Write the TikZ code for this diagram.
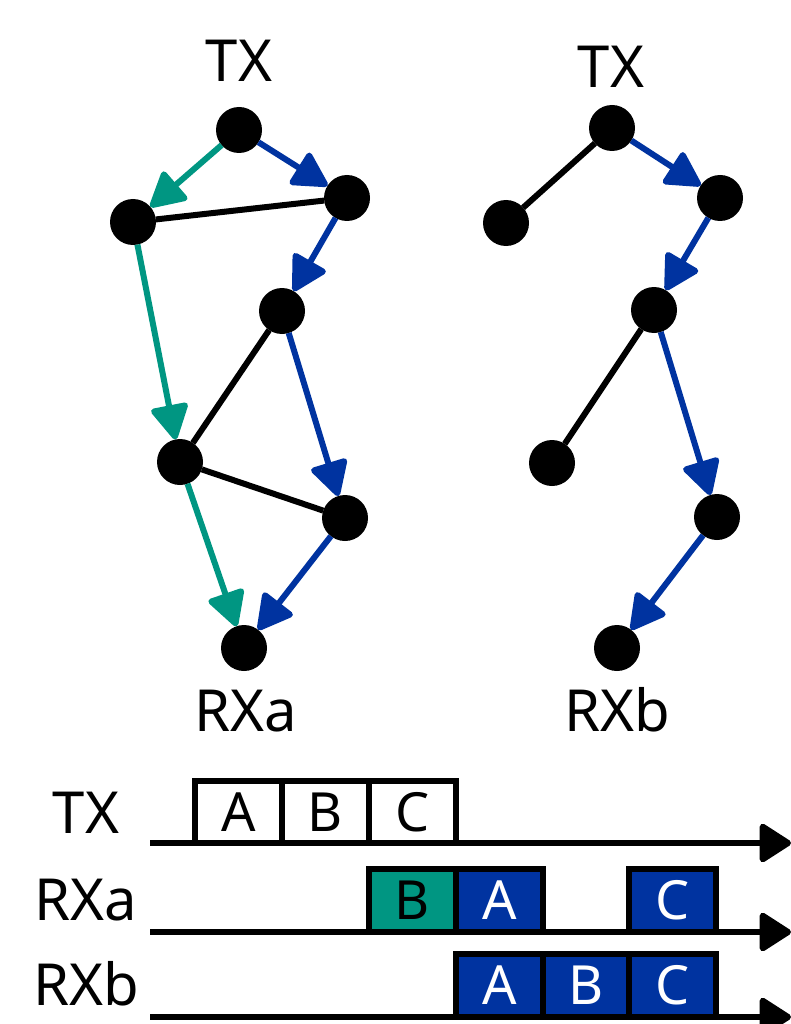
\documentclass[tikz,border=0pt]{standalone}
\usepackage{fontspec}
\setmainfont{Noto Sans}
\usetikzlibrary{arrows.meta,backgrounds}
\definecolor{pathgreen}{RGB}{0,150,130}
\definecolor{pathblue}{RGB}{0,51,160}
\tikzset{
  vertex/.style={circle,fill=black,minimum size=46pt,inner sep=0pt,outer sep=0pt},
  lbl/.style={font=\fontsize{58}{60}\selectfont,anchor=base,inner sep=0pt},
  link/.style={line width=6pt,black},
  garrow/.style={line width=6pt,pathgreen,-{Triangle[length=38pt,width=40pt,round]}},
  barrow/.style={line width=6pt,pathblue,-{Triangle[length=38pt,width=40pt,round]}},
  axis/.style={line width=6pt,black,-{Triangle[length=34pt,width=42pt,round]}},
  pkt/.style={rectangle,draw=black,line width=6pt,minimum width=87pt,inner sep=0pt,
    font=\fontsize{54}{56}\selectfont},
  pktw/.style={pkt,fill=white,text=black,minimum height=62pt},
  pktg/.style={pkt,fill=pathgreen,text=black,minimum height=63pt},
  pktb/.style={pkt,fill=pathblue,text=white,minimum height=63pt},
}
\begin{document}
\begin{tikzpicture}[x=1pt,y=-1pt]
\useasboundingbox (0,0) rectangle (791,1024);

% left network
\node[vertex] (a1) at (239,130) {};
\node[vertex] (a2) at (133,222) {};
\node[vertex] (a3) at (347,198) {};
\node[vertex] (a4) at (282,311) {};
\node[vertex] (a5) at (180,462) {};
\node[vertex] (a6) at (345,518) {};
\node[vertex] (a7) at (244,648) {};
\node[lbl] (tla) at (239,82) {TX};
\node[lbl] (rla) at (246,731) {RXa};

% right network
\node[vertex] (b1) at (612,128) {};
\node[vertex] (b2) at (506,223) {};
\node[vertex] (b3) at (720,198) {};
\node[vertex] (b4) at (654,310) {};
\node[vertex] (b5) at (552,463) {};
\node[vertex] (b6) at (717,517) {};
\node[vertex] (b7) at (617,648) {};
\node[lbl] (tlb) at (611,88) {TX};
\node[lbl] (rlb) at (617,731) {RXb};

\begin{scope}[on background layer]
  \draw[link] (a2) -- (a3);
  \draw[link] (a4) -- (a5);
  \draw[link] (a5) -- (a6);
  \draw[link] (b1) -- (b2);
  \draw[link] (b4) -- (b5);
\end{scope}
\draw[garrow] (a1) -- (a2);
\draw[garrow] (a2) -- (a5);
\draw[garrow] (a5) -- (a7);
\draw[barrow] (a1) -- (a3);
\draw[barrow] (a3) -- (a4);
\draw[barrow] (a4) -- (a6);
\draw[barrow] (a6) -- (a7);
\draw[barrow] (b1) -- (b3);
\draw[barrow] (b3) -- (b4);
\draw[barrow] (b4) -- (b6);
\draw[barrow] (b6) -- (b7);

% timelines
\coordinate (t0) at (150,843);  \coordinate (t1) at (791,843);
\coordinate (ra0) at (150,932); \coordinate (ra1) at (791,932);
\coordinate (rb0) at (150,1017); \coordinate (rb1) at (791,1017);
\draw[axis] (t0) -- (t1);
\draw[axis] (ra0) -- (ra1);
\draw[axis] (rb0) -- (rb1);

\node[lbl] (ltx) at (86,833) {TX};
\node[lbl] (lra) at (86,920) {RXa};
\node[lbl] (lrb) at (86,1005) {RXb};

\node[pktw] (txA) at (238.5,812) {A};
\node[pktw] (txB) at (325.5,812) {B};
\node[pktw] (txC) at (412.5,812) {C};

\node[pktg] (raB) at (412.5,900.5) {B};
\node[pktb] (raA) at (499.5,900.5) {A};
\node[pktb] (raC) at (672.5,900.5) {C};

\node[pktb] (rbA) at (499.5,985.5) {A};
\node[pktb] (rbB) at (586,985.5) {B};
\node[pktb] (rbC) at (672.5,985.5) {C};
\end{tikzpicture}
\end{document}
